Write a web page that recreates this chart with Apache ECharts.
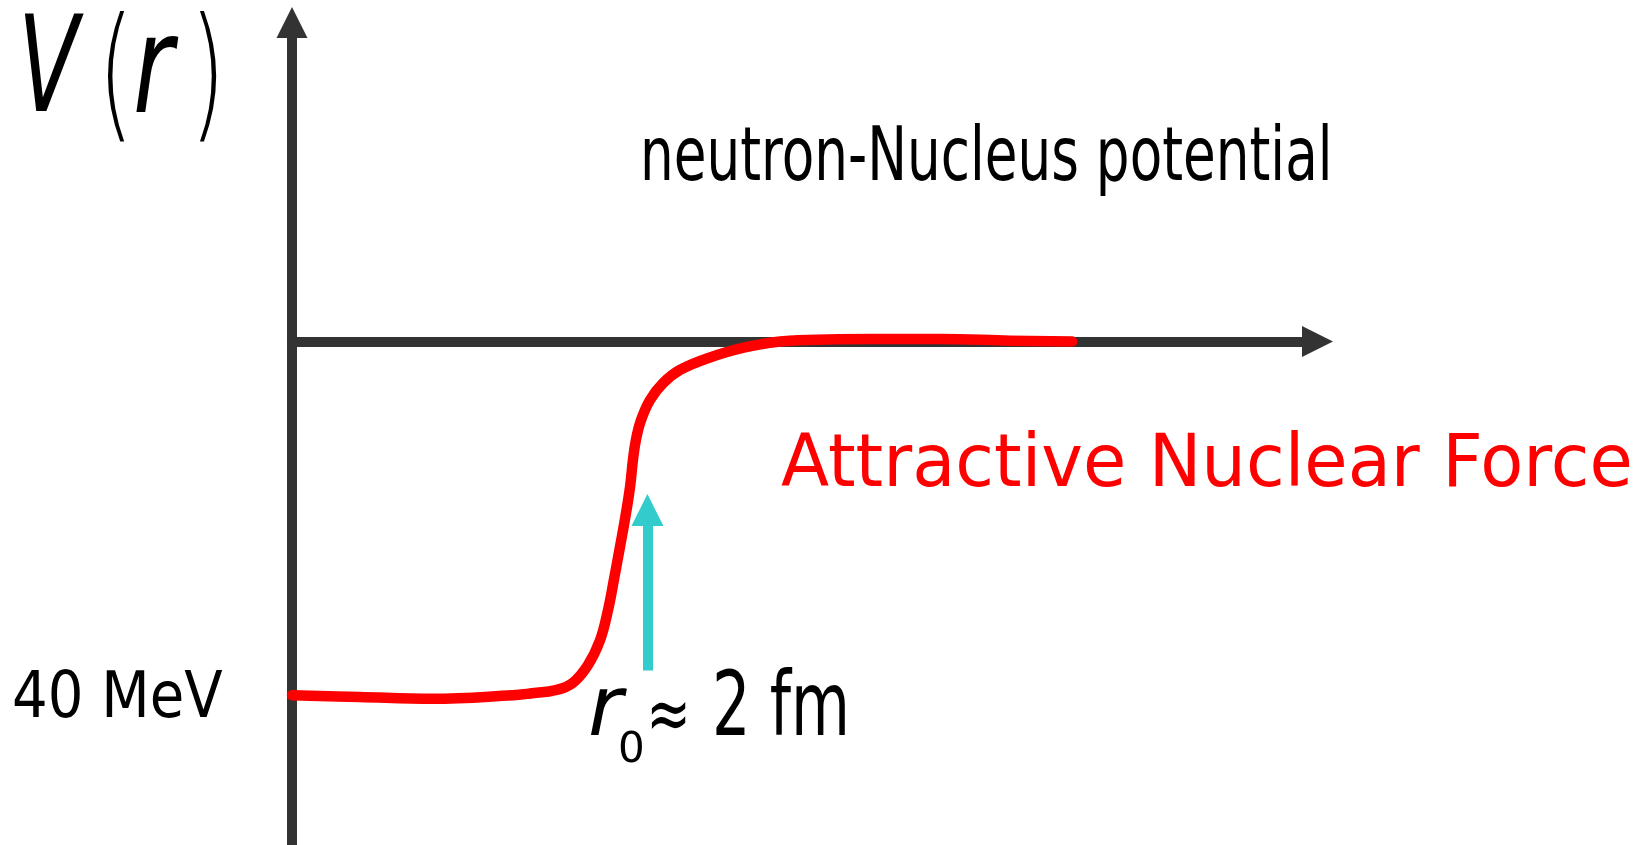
<!DOCTYPE html>
<html>
<head>
<meta charset="utf-8">
<script src="https://cdn.jsdelivr.net/npm/echarts@6/dist/echarts.min.js"></script>
<style>html,body{margin:0;padding:0;background:#fff}#c{width:1640px;height:845px}</style>
</head>
<body>
<div id="c"></div>
<script>
// ---- data (r in fm, V in MeV) ----
const rFm  = [0, 0.38, 0.79, 1.24, 1.34, 1.49, 1.58, 1.665, 1.733, 1.778, 1.811, 1.845, 1.873, 1.902, 1.918, 1.935, 1.963, 2.014, 2.087, 2.183, 2.335, 2.56, 2.80, 3.27, 3.65, 4.04, 4.39];
const vMeV = [-39.9, -40.1, -40.3, -39.9, -39.7, -39.3, -38.5, -36.5, -33.7, -30.3, -26.9, -23.2, -20.1, -16.4, -13.4, -11.1, -8.9, -6.6, -4.7, -3.2, -1.9, -0.6, 0.1, 0.3, 0.3, 0.1, 0.0];
const r0Fm = 2;
const r0ArrowV = [-37.1, -19.0];
const xRange = [0, 5.77];
const yRange = [-56.8, 36];
const titleText = 'neutron-Nucleus potential';
const forceText = 'Attractive Nuclear Force';
const depthText = '40 MeV';
const r0Text = ['r', '0', '\u2248', '2 fm'];

const chart = echarts.init(document.getElementById('c'));
const axisLine = {show: true, onZero: true, symbol: ['none', 'triangle'], symbolSize: [31, 31],
  lineStyle: {color: '#333333', width: 10}};
const F = 'DejaVu Sans';
function txt(text, x, y, size, opts) {
  opts = opts || {};
  return {type: 'text', x: x, y: y + 0.075 * size, scaleX: opts.sx || 1, silent: true, z: 100,
    style: {text: text, x: 0, y: 0, fill: opts.color || '#000', align: opts.align || 'left', verticalAlign: 'middle',
      font: (opts.italic ? 'italic ' : '') + (opts.weight || 'normal') + ' ' + size + 'px "' + (opts.family || F) + '"'}};
}
chart.setOption({
  animation: false,
  grid: {left: 292, right: 322.5, top: 22.5, bottom: 0, containLabel: false},
  xAxis: {type: 'value', min: xRange[0], max: xRange[1], axisLine: axisLine, axisTick: {show: false}, axisLabel: {show: false}, splitLine: {show: false}},
  yAxis: {type: 'value', min: yRange[0], max: yRange[1], axisLine: axisLine, axisTick: {show: false}, axisLabel: {show: false}, splitLine: {show: false}},
  series: [
    {type: 'line', data: rFm.map((r, i) => [r, vMeV[i]]), showSymbol: false, smooth: 0.4,
      lineStyle: {color: '#FF0000', width: 10.5, cap: 'round', join: 'round'}, silent: true, z: 5},
    {type: 'line', data: [], silent: true, z: 6,
      markLine: {silent: true, symbol: ['none', 'triangle'], symbolSize: [32, 32], label: {show: false},
        lineStyle: {color: '#33CCCC', width: 10, type: 'solid', cap: 'butt'}, emphasis: {disabled: true},
        data: [[{coord: [r0Fm, r0ArrowV[0]]}, {coord: [r0Fm, r0ArrowV[1]]}]]}}
  ],
  graphic: [
    txt('V', 18, 66, 134, {italic: true, sx: 0.66}),
    txt('(', 98, 73, 147, {weight: 200, sx: 0.62}),
    txt('r', 133, 66, 136, {italic: true, sx: 0.72}),
    txt(')', 190, 73, 147, {weight: 200, sx: 0.62}),
    txt(titleText, 640, 155, 74, {sx: 0.719}),
    txt(forceText, 781, 462, 73, {sx: 0.965, color: '#FF0000'}),
    txt(depthText, 12, 696, 64, {sx: 0.877}),
    txt(r0Text[0], 588, 707, 84, {italic: true}),
    txt(r0Text[1], 618, 748, 42),
    txt(r0Text[2], 668.5, 713.5, 75, {align: 'center', sx: 0.71}),
    txt(r0Text[3], 712, 705, 89, {sx: 0.68})
  ]
});
</script>
</body>
</html>
